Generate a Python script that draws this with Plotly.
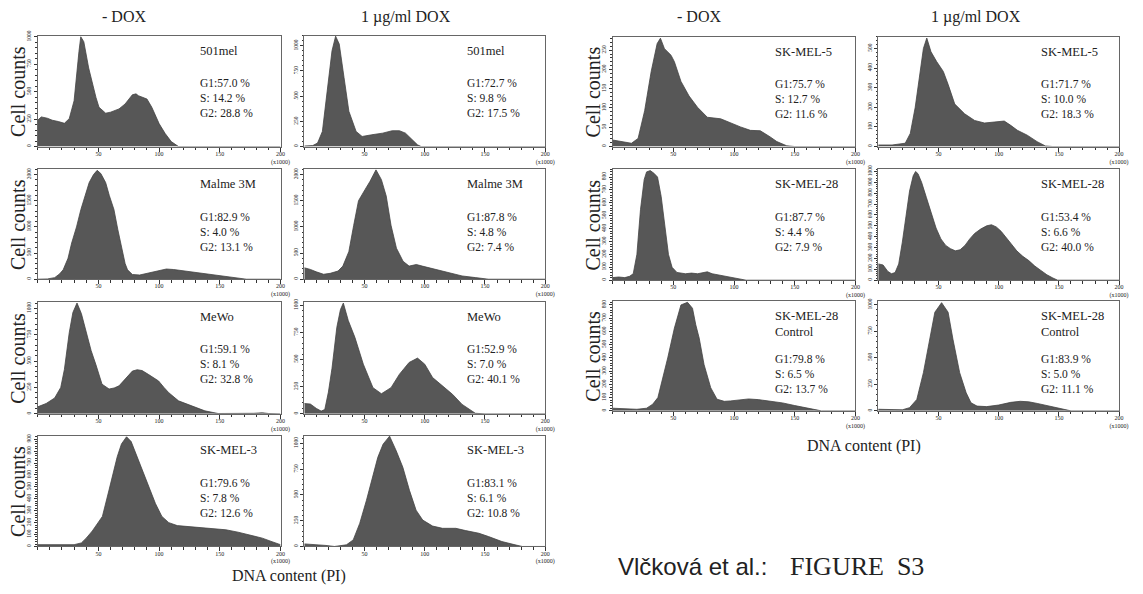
import plotly.graph_objects as go

W, H = 1143, 594
SERIF = "Liberation Serif, Times New Roman, serif"
SANS = "Liberation Sans, Arial, sans-serif"
FILL = "#575757"
EDGE = "#444444"
INK = "#222222"

# ---------------- DNA content (x1000) / cell counts ----------------
mel501_ctrl_dna = [0, 3, 8, 12, 17, 22, 26, 30, 34, 35.5, 38, 42, 48, 50.5, 56, 60, 67, 72, 78, 81, 83, 90, 94, 100, 105, 110, 116, 200]
mel501_ctrl_cnt = [240, 270, 258, 240, 228, 212, 254, 418, 866, 1000, 955, 716, 448, 358, 304, 313, 343, 388, 472, 480, 463, 433, 358, 209, 119, 45, 0, 0]
mel501_dox_dna = [0, 7, 11, 15, 19, 23, 26, 29, 33, 37, 43, 48, 56, 65, 73, 79, 84, 90, 94, 97, 200]
mel501_dox_cnt = [5, 10, 35, 150, 550, 950, 1095, 1017, 683, 350, 150, 100, 117, 133, 157, 157, 133, 67, 17, 0, 0]

malme_ctrl_dna = [0, 8, 14, 18, 21, 25, 28, 32, 35.6, 39, 42.4, 46, 49, 52, 56, 59, 62.8, 66, 69, 72, 74, 78, 84, 92, 100, 106, 112, 120, 130, 140, 150, 160, 168, 172, 200]
malme_ctrl_cnt = [0, 5, 30, 100, 180, 400, 692, 1000, 1333, 1600, 1846, 2000, 2080, 2020, 1846, 1600, 1333, 950, 600, 300, 180, 90, 80, 120, 170, 195, 185, 160, 130, 100, 60, 25, 5, 0, 0]
malme_dox_dna = [0, 5, 10, 16, 21.5, 28, 32, 37, 41, 45, 50.5, 54.6, 59.5, 64, 68, 72, 76.5, 82, 87, 93, 98, 109, 120, 131, 142, 153, 200]
malme_dox_cnt = [218, 187, 140, 94, 112, 156, 250, 530, 1030, 1500, 1716, 1872, 2090, 1903, 1590, 1030, 593, 343, 250, 281, 250, 187, 125, 62, 31, 0, 0]

mewo_ctrl_dna = [0, 7, 14, 19, 22, 26, 29, 32.4, 36, 40, 44, 48, 53, 58.8, 63, 67, 73.7, 78, 82, 86, 91.4, 99.6, 104, 108, 116, 126.5, 137.7, 148.6, 170, 178, 185, 190, 200]
mewo_ctrl_cnt = [66, 98, 150, 250, 420, 769, 960, 1050, 950, 769, 600, 464, 281, 235, 245, 265, 357, 405, 418, 410, 372, 311, 250, 200, 123, 76, 28, 3, 0, 5, 10, 3, 0]
mewo_dox_dna = [0, 5, 10, 14, 17, 20, 23, 27, 30, 32.4, 36.5, 42, 49, 57, 64, 72, 79, 87, 94, 100, 106.5, 113, 123, 131, 137, 142, 150, 200]
mewo_dox_cnt = [95, 90, 50, 25, 40, 200, 420, 797, 960, 1020, 859, 704, 457, 241, 185, 241, 365, 473, 513, 457, 334, 272, 180, 87, 40, 5, 0, 0]

skmel3_ctrl_dna = [0, 10, 20, 30, 36, 40, 45, 50, 53.3, 58.8, 62, 65.5, 69, 73.2, 77, 81.9, 87, 92.8, 97, 102.3, 108, 115, 125, 135, 145, 155, 165, 175, 185, 193, 198, 200]
skmel3_ctrl_cnt = [15, 15, 10, 15, 30, 70, 130, 200, 252, 475, 620, 752, 860, 920, 880, 752, 620, 475, 360, 252, 200, 175, 165, 160, 150, 140, 120, 95, 70, 40, 20, 15]
skmel3_dox_dna = [0, 10, 18, 25, 35, 40.6, 46, 51.6, 57, 61, 65.4, 70.8, 76.3, 81.8, 87.3, 92.8, 98.3, 106.5, 114.8, 125.8, 134, 145, 153, 164, 175, 181, 200]
skmel3_dox_cnt = [25, 20, 10, 0, 16, 64, 224, 448, 704, 864, 992, 1070, 928, 768, 544, 352, 256, 198, 176, 176, 154, 128, 96, 48, 16, 0, 0]

skmel5_ctrl_dna = [0, 7.3, 15.5, 21, 26.4, 31.8, 36.7, 39.4, 42.7, 48.1, 50.9, 56.3, 63, 69.9, 78, 89, 97, 105.3, 113.5, 121.6, 129.8, 135.2, 143.4, 150, 200]
skmel5_ctrl_cnt = [17, 13, 8.5, 21, 93, 195, 267, 281, 254, 237, 220, 169, 131, 102, 76, 72, 61, 51, 42, 41, 25, 13, 2, 0, 0]
skmel5_dox_dna = [0, 11.5, 22.4, 26.6, 30.7, 34.8, 37.5, 40.3, 43.8, 48.5, 54, 58, 63.5, 71.7, 80, 88.2, 99.1, 104.6, 110, 115.5, 123.7, 131.9, 138.8, 145, 200]
skmel5_dox_cnt = [8, 8, 17, 67, 200, 383, 500, 553, 483, 433, 383, 317, 217, 167, 133, 120, 125, 130, 108, 83, 58, 25, 3, 0, 0]

skmel28_ctrl_dna = [0, 5, 10, 14, 17, 20, 23, 26, 28, 31, 34, 37, 40, 43, 46, 49, 53, 60, 65, 70, 75, 78, 82, 90, 100, 105, 110, 200]
skmel28_ctrl_cnt = [20, 25, 20, 30, 50, 200, 550, 780, 840, 850, 830, 800, 650, 400, 200, 100, 60, 50, 55, 50, 60, 65, 50, 35, 20, 10, 0, 0]
skmel28_dox_dna = [0, 4, 8, 11, 14, 17, 20, 23, 26, 29, 31, 33, 36, 40, 44, 48, 52, 56, 60, 64, 68, 72, 76, 80, 85, 90, 94, 98, 102, 106, 110, 115, 120, 125, 130, 135, 140, 145, 149, 200]
skmel28_dox_cnt = [150, 140, 80, 60, 70, 150, 350, 600, 820, 960, 1000, 980, 900, 760, 620, 480, 380, 320, 290, 270, 280, 320, 380, 430, 470, 500, 510, 490, 450, 400, 340, 270, 220, 180, 130, 90, 50, 20, 0, 0]

skmel28c_ctrl_dna = [0, 10, 20, 28, 33, 37.3, 41.4, 45.4, 50.9, 56.3, 61.7, 65.8, 68.5, 71.3, 75.3, 80.8, 86, 92, 97, 105, 112, 120, 130, 140, 150, 160, 168, 172, 200]
skmel28c_ctrl_cnt = [20, 15, 12, 20, 50, 100, 250, 400, 625, 800, 820, 775, 650, 550, 350, 175, 88, 72, 75, 85, 90, 85, 75, 60, 40, 20, 5, 0, 0]
skmel28c_dox_dna = [0, 10, 20, 26, 32, 37.5, 43, 47, 52.6, 58, 62, 67.6, 73, 77, 82, 90, 100, 110, 118, 125, 132, 140, 148, 155, 160, 200]
skmel28c_dox_cnt = [15, 10, 10, 30, 107, 360, 676, 929, 1019, 929, 676, 360, 170, 76, 45, 40, 55, 80, 90, 85, 70, 50, 25, 8, 0, 0]

# cell-line labels and cell-cycle fractions
names = ["501mel", "501mel", "Malme 3M", "Malme 3M", "MeWo", "MeWo", "SK-MEL-3", "SK-MEL-3",
         "SK-MEL-5", "SK-MEL-5", "SK-MEL-28", "SK-MEL-28", "SK-MEL-28", "SK-MEL-28"]
subnames = ["", "", "", "", "", "", "", "", "", "", "", "", "Control", "Control"]
g1 = ["57.0", "72.7", "82.9", "87.8", "59.1", "52.9", "79.6", "83.1", "75.7", "71.7", "87.7", "53.4", "79.8", "83.9"]
s_phase = ["14.2", "9.8", "4.0", "4.8", "8.1", "7.0", "7.8", "6.1", "12.7", "10.0", "4.4", "6.6", "6.5", "5.0"]
g2 = ["28.8", "17.5", "13.1", "7.4", "32.8", "40.1", "12.6", "10.8", "11.6", "18.3", "7.9", "40.0", "13.7", "11.1"]

# y-axis tick values and upper limits per panel
y_ticks = [
    [0, 250, 500, 750, 1000], [0, 250, 500, 750, 1000],
    [0, 500, 1000, 1500, 2000], [0, 500, 1000, 1500, 2000],
    [0, 250, 500, 750, 1000], [0, 250, 500, 750, 1000],
    [0, 100, 200, 300, 400, 500, 600, 700, 800, 900], [0, 250, 500, 750, 1000],
    [0, 50, 100, 150, 200, 250], [0, 100, 200, 300, 400, 500],
    [0, 100, 200, 300, 400, 500, 600, 700, 800], [0, 100, 200, 300, 400, 500, 600, 700, 800, 900, 1000],
    [0, 100, 200, 300, 400, 500, 600, 700, 800], [0, 250, 500, 750, 1000],
]
y_top = [1010, 1100, 2100, 2100, 1060, 1030, 930, 1075, 285, 560, 860, 1020, 830, 1035]
y_minor = [50, 50, 100, 100, 50, 50, 20, 50, 10, 20, 20, 20, 20, 50]

x_tickvals = [50, 100, 150, 200]
x_ticktext = ["50", "100", "150", "200<br>(x1000)"]

series = [
    (mel501_ctrl_dna, mel501_ctrl_cnt), (mel501_dox_dna, mel501_dox_cnt),
    (malme_ctrl_dna, malme_ctrl_cnt), (malme_dox_dna, malme_dox_cnt),
    (mewo_ctrl_dna, mewo_ctrl_cnt), (mewo_dox_dna, mewo_dox_cnt),
    (skmel3_ctrl_dna, skmel3_ctrl_cnt), (skmel3_dox_dna, skmel3_dox_cnt),
    (skmel5_ctrl_dna, skmel5_ctrl_cnt), (skmel5_dox_dna, skmel5_dox_cnt),
    (skmel28_ctrl_dna, skmel28_ctrl_cnt), (skmel28_dox_dna, skmel28_dox_cnt),
    (skmel28c_ctrl_dna, skmel28c_ctrl_cnt), (skmel28c_dox_dna, skmel28c_dox_cnt),
]

# ---------------- panel geometry (pixels) ----------------
cols = [(38, 283), (307, 550), (618, 863), (886, 1129)]
rows_left = [(31, 143), (166, 277), (300, 413), (435, 547)]
rows_right = [(32, 143), (166, 278), (299, 410)]
boxes = []
for r in rows_left:
    boxes.append((cols[0], r))
    boxes.append((cols[1], r))
for r in rows_right:
    boxes.append((cols[2], r))
    boxes.append((cols[3], r))


def px(x):
    return x / W


def py(y):
    return 1 - y / H


fig = go.Figure()
layout = {}
annotations = []

for i, ((dna, cnt), ((x0, x1), (y0, y1))) in enumerate(zip(series, boxes)):
    n = i + 1
    xa = "x" if n == 1 else f"x{n}"
    ya = "y" if n == 1 else f"y{n}"
    fig.add_trace(go.Scatter(
        x=dna, y=cnt, xaxis=xa, yaxis=ya, mode="lines", fill="tozeroy",
        fillcolor=FILL, line=dict(color=EDGE, width=0.8),
        hoverinfo="skip", showlegend=False,
    ))
    suffix = "" if n == 1 else str(n)
    layout["xaxis" + suffix] = dict(
        domain=[px(x0), px(x1)], anchor=ya, range=[0, 200],
        tickmode="array", tickvals=x_tickvals, ticktext=x_ticktext,
        ticks="outside", ticklen=4, tickwidth=1, tickcolor="#333",
        ticklabelstandoff=-3,
        minor=dict(tickmode="array", tickvals=list(range(0, 201, 10)),
                   ticks="outside", ticklen=2.5, tickcolor="#333", showgrid=False),
        showline=True, linecolor="#666", linewidth=1, mirror=True,
        showgrid=False, zeroline=False, fixedrange=True,
        tickfont=dict(family=SERIF, size=6, color=INK),
    )
    top = y_top[i]
    layout["yaxis" + suffix] = dict(
        domain=[py(y1), py(y0)], anchor=xa, range=[0, top],
        tickmode="array", tickvals=y_ticks[i], ticktext=[str(v) for v in y_ticks[i]],
        tickangle=-90, ticks="outside", ticklen=3, tickwidth=1, tickcolor="#333",
        minor=dict(tickmode="array", tickvals=list(range(0, top + 1, y_minor[i])),
                   ticks="outside", ticklen=1.5, tickcolor="#333", showgrid=False),
        showline=True, linecolor="#666", linewidth=1, mirror=True,
        showgrid=False, zeroline=False, fixedrange=True,
        tickfont=dict(family=SERIF, size=5.5, color=INK),
    )

    # cell-line label and phase fractions
    tx = x0 + 162
    if subnames[i]:
        name_text = f"{names[i]}<br>{subnames[i]}"
        name_y, stat_y = 23, 74
    else:
        name_text = names[i]
        name_y, stat_y = 15, 63
    annotations.append(dict(
        text=name_text, x=px(tx), y=py(y0 + name_y), xref="paper", yref="paper",
        xanchor="left", yanchor="middle", align="left", showarrow=False,
        font=dict(family=SERIF, size=12.5, color=INK),
    ))
    stats_text = f"G1:{g1[i]} %<br>S: {s_phase[i]} %<br>G2: {g2[i]} %"
    annotations.append(dict(
        text=stats_text, x=px(tx), y=py(y0 + stat_y), xref="paper", yref="paper",
        xanchor="left", yanchor="middle", align="left", showarrow=False,
        font=dict(family=SERIF, size=11.5, color=INK),
    ))

    # y-axis title on the first panel of each row
    if (x0, x1) in (cols[0], cols[2]):
        annotations.append(dict(
            text="Cell counts", x=px(x0 - 20), y=py((y0 + y1) / 2),
            xref="paper", yref="paper", xanchor="center", yanchor="middle",
            textangle=-90, showarrow=False,
            font=dict(family=SERIF, size=20, color=INK),
        ))

# column headings
for text, cx in [("- DOX", 125), ("1 µg/ml DOX", 410), ("- DOX", 705), ("1 µg/ml DOX", 985)]:
    annotations.append(dict(
        text=text, x=px(cx), y=py(12), xref="paper", yref="paper",
        xanchor="center", yanchor="middle", showarrow=False,
        font=dict(family=SERIF, size=16, color=INK),
    ))

# x-axis titles
for cx, cy in [(292, 577), (872, 446)]:
    annotations.append(dict(
        text="DNA content (PI)", x=px(cx), y=py(cy), xref="paper", yref="paper",
        xanchor="center", yanchor="middle", showarrow=False,
        font=dict(family=SERIF, size=16, color=INK),
    ))

# figure caption
annotations.append(dict(
    text="Vlčková et al.:", x=px(621), y=py(567), xref="paper", yref="paper",
    xanchor="left", yanchor="middle", showarrow=False,
    font=dict(family=SANS, size=24, color=INK),
))
annotations.append(dict(
    text="FIGURE  S3", x=px(795), y=py(567), xref="paper", yref="paper",
    xanchor="left", yanchor="middle", showarrow=False,
    font=dict(family=SERIF, size=26, color=INK),
))

fig.update_layout(
    width=W, height=H, margin=dict(l=0, r=0, t=0, b=0),
    paper_bgcolor="white", plot_bgcolor="white",
    showlegend=False, annotations=annotations, **layout,
)

fig.write_html("out.html")
